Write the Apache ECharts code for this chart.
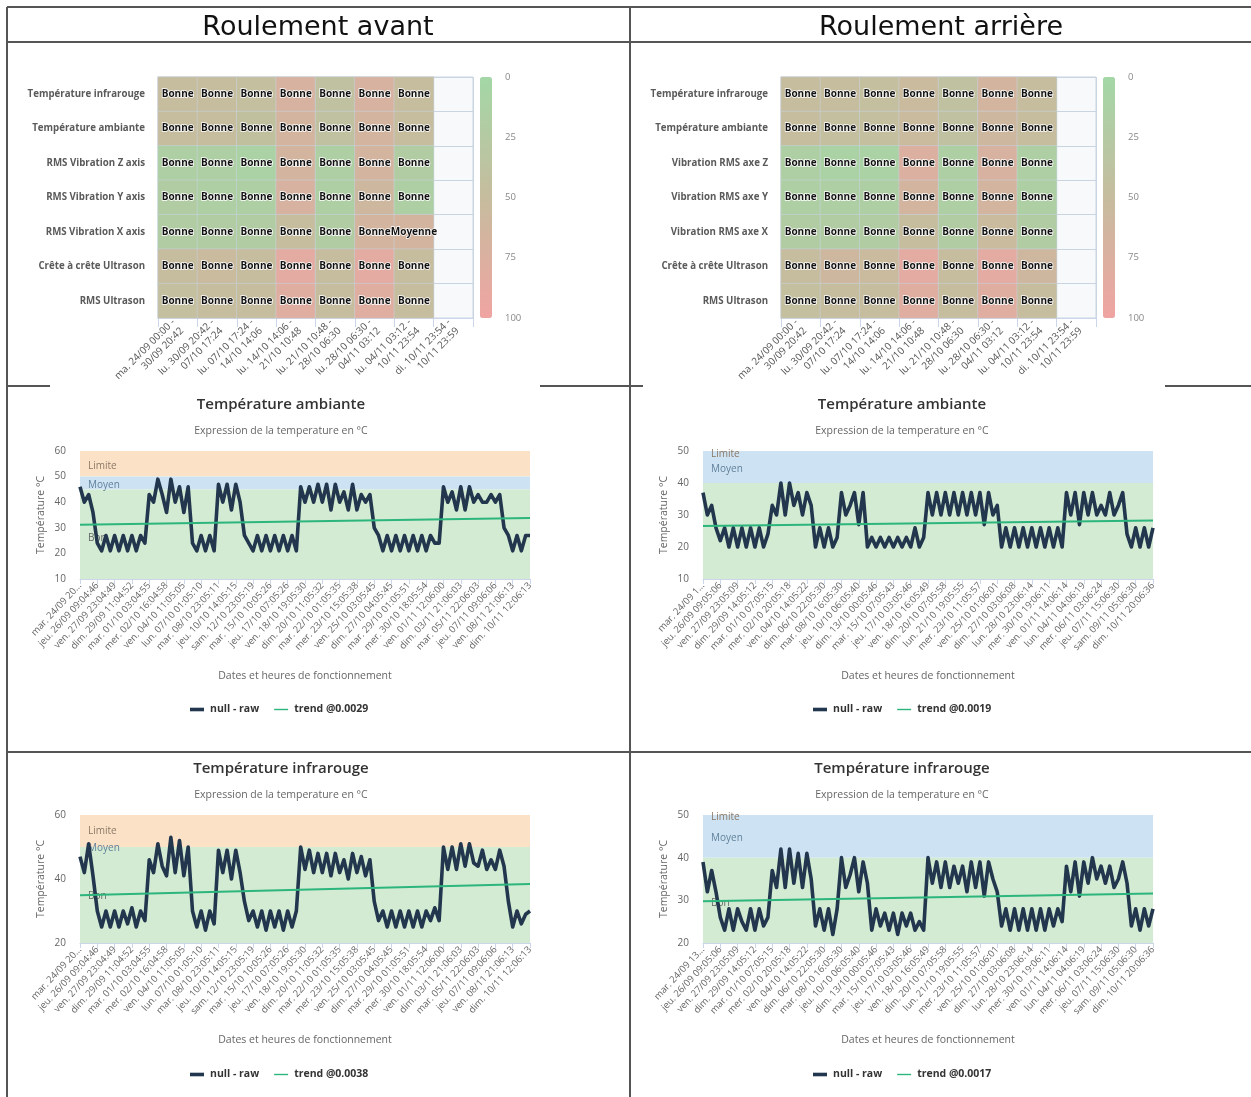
<!DOCTYPE html>
<html>
<head>
<meta charset="utf-8">
<title>Roulements</title>
<script src="https://cdn.jsdelivr.net/npm/echarts/dist/echarts.min.js"></script>
<style>
html, body { margin: 0; padding: 0; background: #fff; }
#main { width: 1251px; height: 1097px; }
</style>
</head>
<body>
<div id="main"></div>
<script>
const FONT = '"Open Sans", "DejaVu Sans", sans-serif';

// heatmaps : colonnes (periodes), lignes (capteurs), valeurs 0-100 et etat
const periodes = ['ma. 24/09 00:00 -\n30/09 20:42', 'lu. 30/09 20:42 -\n07/10 17:24', 'lu. 07/10 17:24 -\n14/10 14:06',
    'lu. 14/10 14:06 -\n21/10 10:48', 'lu. 21/10 10:48 -\n28/10 06:30', 'lu. 28/10 06:30 -\n04/11 03:12',
    'lu. 04/11 03:12 -\n10/11 23:54', 'di. 10/11 23:54 -\n10/11 23:59'];
const lignesAvant = ['Température infrarouge', 'Température ambiante', 'RMS Vibration Z axis', 'RMS Vibration Y axis',
    'RMS Vibration X axis', 'Crête à crête Ultrason', 'RMS Ultrason'];
const lignesArriere = ['Température infrarouge', 'Température ambiante', 'Vibration RMS axe Z', 'Vibration RMS axe Y',
    'Vibration RMS axe X', 'Crête à crête Ultrason', 'RMS Ultrason'];
const valeursAvant = [
    [50, 50, 45, 70, 40, 70, 50],
    [50, 48, 42, 65, 40, 65, 50],
    [15, 15, 10, 65, 15, 65, 20],
    [20, 15, 15, 70, 15, 60, 15],
    [20, 20, 20, 50, 20, 65, 65],
    [50, 55, 50, 85, 50, 85, 50],
    [45, 50, 50, 80, 50, 80, 50]
];
const valeursArriere = [
    [50, 50, 45, 55, 40, 65, 48],
    [48, 45, 45, 55, 40, 60, 50],
    [15, 10, 10, 75, 15, 70, 15],
    [15, 15, 15, 65, 15, 65, 15],
    [20, 20, 20, 50, 20, 55, 20],
    [50, 60, 55, 85, 50, 85, 60],
    [45, 50, 50, 80, 50, 80, 50]
];
const etatsAvant = [
    ['Bonne', 'Bonne', 'Bonne', 'Bonne', 'Bonne', 'Bonne', 'Bonne'],
    ['Bonne', 'Bonne', 'Bonne', 'Bonne', 'Bonne', 'Bonne', 'Bonne'],
    ['Bonne', 'Bonne', 'Bonne', 'Bonne', 'Bonne', 'Bonne', 'Bonne'],
    ['Bonne', 'Bonne', 'Bonne', 'Bonne', 'Bonne', 'Bonne', 'Bonne'],
    ['Bonne', 'Bonne', 'Bonne', 'Bonne', 'Bonne', 'Bonne', 'Moyenne'],
    ['Bonne', 'Bonne', 'Bonne', 'Bonne', 'Bonne', 'Bonne', 'Bonne'],
    ['Bonne', 'Bonne', 'Bonne', 'Bonne', 'Bonne', 'Bonne', 'Bonne']
];
const etatsArriere = [
    ['Bonne', 'Bonne', 'Bonne', 'Bonne', 'Bonne', 'Bonne', 'Bonne'],
    ['Bonne', 'Bonne', 'Bonne', 'Bonne', 'Bonne', 'Bonne', 'Bonne'],
    ['Bonne', 'Bonne', 'Bonne', 'Bonne', 'Bonne', 'Bonne', 'Bonne'],
    ['Bonne', 'Bonne', 'Bonne', 'Bonne', 'Bonne', 'Bonne', 'Bonne'],
    ['Bonne', 'Bonne', 'Bonne', 'Bonne', 'Bonne', 'Bonne', 'Bonne'],
    ['Bonne', 'Bonne', 'Bonne', 'Bonne', 'Bonne', 'Bonne', 'Bonne'],
    ['Bonne', 'Bonne', 'Bonne', 'Bonne', 'Bonne', 'Bonne', 'Bonne']
];

// courbes de temperature : etiquettes de l'axe (un point sur quatre) et mesures
const ticksAvant = ['mar. 24/09 20...', 'jeu. 26/09 09:04:46', 'ven. 27/09 23:04:49', 'dim. 29/09 11:04:52',
    'mar. 01/10 03:04:55', 'mer. 02/10 16:04:58', 'ven. 04/10 11:05:05', 'lun. 07/10 01:05:10', 'mar. 08/10 23:05:11',
    'jeu. 10/10 14:05:15', 'sam. 12/10 23:05:19', 'mar. 15/10 10:05:26', 'jeu. 17/10 07:05:26', 'ven. 18/10 19:05:30',
    'dim. 20/10 11:05:32', 'mar. 22/10 01:05:35', 'mer. 23/10 15:05:38', 'ven. 25/10 03:05:45', 'dim. 27/10 04:05:45',
    'mar. 29/10 01:05:51', 'mer. 30/10 18:05:54', 'ven. 01/11 12:06:00', 'dim. 03/11 21:06:03', 'mar. 05/11 22:06:03',
    'jeu. 07/11 09:06:06', 'ven. 08/11 21:06:13', 'dim. 10/11 12:06:13'];
const ticksArriereAmb = ['mar. 24/09 1...', 'jeu. 26/09 09:05:06', 'ven. 27/09 23:05:09', 'dim. 29/09 14:05:12',
    'mar. 01/10 07:05:15', 'mer. 02/10 20:05:18', 'ven. 04/10 14:05:22', 'dim. 06/10 22:05:30', 'mar. 08/10 16:05:30',
    'jeu. 10/10 06:05:40', 'dim. 13/10 00:05:46', 'mar. 15/10 07:05:43', 'jeu. 17/10 03:05:46', 'ven. 18/10 16:05:49',
    'dim. 20/10 07:05:58', 'lun. 21/10 19:05:55', 'mer. 23/10 11:05:57', 'ven. 25/10 01:06:01', 'dim. 27/10 03:06:08',
    'lun. 28/10 23:06:14', 'mer. 30/10 19:06:11', 'ven. 01/11 14:06:14', 'lun. 04/11 04:06:19', 'mer. 06/11 03:06:24',
    'jeu. 07/11 15:06:30', 'sam. 09/11 05:06:30', 'dim. 10/11 20:06:36'];
const ticksArriereIR = ['mar. 24/09 13...'].concat(ticksArriereAmb.slice(1));

const brutAvantAmb = [46, 40, 43, 36, 24,
    21, 27, 21, 27, 21, 27, 21, 27, 21, 27, 24,
    43, 40, 49, 43, 36, 49, 40, 46, 36, 46, 24,
    21, 27, 21, 27, 21,
    47, 40, 47, 37, 47, 40, 27,
    24, 21, 27, 21, 27, 21, 27, 21, 27, 21, 27, 21,
    46, 40, 46, 40, 47, 40, 47, 37, 47, 40, 44, 37, 47, 37, 43, 40, 43, 30,
    27, 21, 27, 21, 27, 21, 27, 21, 27, 21, 27, 21, 27, 24, 24,
    46, 40, 44, 37, 46, 37, 46, 40, 43, 40, 40, 43, 40, 43, 30,
    27, 21, 27, 21, 27, 27];
const brutArriereAmb = [37, 30, 33, 26, 22,
    26, 20, 26, 20, 26, 20, 26, 20, 26, 20, 24,
    33, 30, 40, 30, 40, 33, 37, 30, 37, 33, 20,
    26, 20, 26, 20, 23,
    37, 30, 33, 37, 27, 37, 20,
    23, 20, 23, 20, 23, 20, 23, 20, 23, 20, 26, 20, 23,
    37, 30, 37, 30, 37, 30, 37, 30, 37, 30, 37, 30, 37, 27, 37, 30, 33,
    20, 26, 20, 26, 20, 26, 20, 26, 20, 26, 20, 26, 20, 26, 20,
    37, 30, 37, 27, 37, 30, 37, 30, 33, 30, 37, 30, 33, 37, 24,
    20, 26, 20, 26, 20, 26];
const brutAvantIR = [47, 42, 51, 41, 30,
    25, 30, 25, 30, 25, 30, 26, 31, 25, 30, 27,
    46, 42, 51, 44, 41, 53, 42, 52, 41, 50, 30,
    25, 30, 24, 30, 26,
    49, 42, 49, 40, 49, 42, 33,
    27, 30, 25, 30, 24, 30, 25, 30, 24, 30, 25, 30,
    50, 43, 49, 42, 48, 42, 48, 41, 48, 42, 46, 40, 48, 42, 47, 41, 46, 33,
    27, 30, 25, 30, 25, 30, 25, 30, 25, 30, 25, 30, 27, 31, 27,
    50, 43, 50, 43, 51, 44, 51, 45, 44, 49, 43, 46, 43, 49, 44,
    33, 25, 30, 26, 29, 30];
const brutArriereIR = [39, 32, 37, 32, 26,
    23, 28, 23, 28, 25, 23, 28, 23, 28, 24, 26,
    37, 33, 42, 33, 42, 34, 41, 33, 41, 35, 24,
    28, 23, 28, 22, 28,
    40, 33, 36, 40, 32, 39, 34,
    23, 28, 24, 27, 23, 27, 22, 27, 24, 27, 23, 25, 23,
    40, 34, 39, 33, 39, 33, 38, 34, 38, 32, 39, 33, 39, 31, 39, 35, 32,
    24, 28, 23, 28, 23, 28, 23, 28, 23, 28, 23, 28, 24, 28, 25,
    38, 32, 39, 31, 39, 34, 40, 35, 38, 34, 38, 33, 35, 39, 34,
    24, 28, 23, 28, 24, 28];

// tendances : valeur au debut et a la fin
const trendAvantAmb = [31.2, 33.8];
const trendArriereAmb = [26.6, 28.3];
const trendAvantIR = [34.9, 38.4];
const trendArriereIR = [29.8, 31.6];

const ORANGE = '#fbe2c7', BLEU = '#cde3f3', VERT = '#d3ebd2';
const RAW = '#22374e', TREND = '#2cb57c';

let myChart = echarts.init(document.getElementById('main'));

const heatData = (valeurs, etats) => {
    let out = [];
    valeurs.forEach((row, r) => row.forEach((v, c) => out.push([c, r, v, etats[r][c]])));
    return out;
};

// une heatmap par roulement
const heatGrid = (left) => ({
    'left': left, 'top': 77, 'width': 315, 'height': 241, 'show': true,
    'backgroundColor': '#f7f9fb', 'borderColor': '#c9d5e0', 'borderWidth': 1, 'outerBoundsMode': 'none'
});
const heatX = (gi) => ({
    'type': 'category', 'gridIndex': gi, 'data': periodes,
    'axisLine': {'lineStyle': {'color': '#ccd6eb'}},
    'axisTick': {'show': true, 'length': 9, 'lineStyle': {'color': '#ccd6eb'}},
    'splitLine': {'show': true, 'lineStyle': {'color': '#c9d5e0'}},
    'axisLabel': {'rotate': 45, 'interval': 0, 'fontSize': 10, 'color': '#555', 'fontFamily': FONT, 'lineHeight': 12, 'margin': 7}
});
const heatY = (gi, lignes) => ({
    'type': 'category', 'gridIndex': gi, 'data': lignes, 'inverse': true,
    'axisLine': {'show': false}, 'axisTick': {'show': false},
    'splitLine': {'show': true, 'lineStyle': {'color': '#c9d5e0'}},
    'axisLabel': {'fontSize': 9.7, 'fontWeight': 'bold', 'color': '#5a5a5a', 'fontFamily': FONT, 'margin': 13}
});
const heatSeries = (gi, valeurs, etats) => ({
    'type': 'heatmap', 'xAxisIndex': gi, 'yAxisIndex': gi,
    'data': heatData(valeurs, etats),
    'itemStyle': {'borderColor': '#c9d5e0', 'borderWidth': 0.5},
    'label': {
        'show': true, 'formatter': (p) => p.data[3], 'fontSize': 10, 'fontWeight': 'bold',
        'color': '#111', 'fontFamily': FONT, 'textBorderColor': '#fff', 'textBorderWidth': 1.5
    },
    'emphasis': {'disabled': true}
});
// echelle 0-100 a cote de la barre de couleur
const scaleGrid = (left) => ({'left': left, 'top': 77, 'width': 12, 'height': 241, 'outerBoundsMode': 'none'});
const scaleX = (gi) => ({'type': 'value', 'gridIndex': gi, 'show': false});
const scaleY = (gi) => ({
    'type': 'value', 'gridIndex': gi, 'min': 0, 'max': 100, 'interval': 25, 'inverse': true, 'position': 'right',
    'axisLine': {'show': false}, 'axisTick': {'show': false}, 'splitLine': {'show': false},
    'axisLabel': {'margin': 13, 'fontSize': 9.5, 'color': '#888', 'fontFamily': FONT}
});
const visual = (si, left) => ({
    'type': 'continuous', 'seriesIndex': si, 'dimension': 2, 'min': 0, 'max': 100, 'inverse': true, 'orient': 'vertical',
    'left': left - 15, 'top': 62, 'itemWidth': 12, 'itemHeight': 241, 'calculable': false, 'text': null,
    'showLabel': false, 'inRange': {'color': ['#a3d7a6', '#c6bc9e', '#f0a4a2']}
});

// courbes
const lineGrid = (left, top) => ({'left': left, 'top': top, 'width': 450, 'height': 128, 'outerBoundsMode': 'none'});
const lineX = (gi, ticks) => ({
    'type': 'value', 'gridIndex': gi, 'min': 0, 'max': 104, 'interval': 4,
    'name': 'Dates et heures de fonctionnement', 'nameLocation': 'middle', 'nameGap': 92,
    'nameTextStyle': {'fontSize': 10.5, 'color': '#666', 'fontFamily': FONT},
    'axisLine': {'show': true, 'lineStyle': {'color': '#ccd6eb'}},
    'axisTick': {'show': true, 'length': 5, 'lineStyle': {'color': '#ccd6eb'}},
    'splitLine': {'show': false},
    'axisLabel': {
        'rotate': 47, 'fontSize': 9.5, 'color': '#666', 'fontFamily': FONT, 'margin': 5,
        'showMinLabel': true, 'showMaxLabel': true,
        'formatter': (v) => ticks[Math.round(v / 4)] || ''
    }
});
const lineY = (gi, min, max, interval) => ({
    'type': 'value', 'gridIndex': gi, 'min': min, 'max': max, 'interval': interval,
    'name': 'Température °C', 'nameLocation': 'middle', 'nameGap': 33, 'nameRotate': 90,
    'nameTextStyle': {'fontSize': 10.5, 'color': '#666', 'fontFamily': FONT},
    'axisLine': {'show': false}, 'axisTick': {'show': false}, 'splitLine': {'show': false},
    'axisLabel': {'fontSize': 10, 'color': '#666', 'fontFamily': FONT, 'margin': 14}
});
const rawSeries = (gi, brut) => ({
    'name': 'null - raw', 'type': 'line', 'xAxisIndex': gi, 'yAxisIndex': gi, 'symbol': 'none', 'z': 2,
    'data': brut.map((v, i) => [i, v]),
    'lineStyle': {'width': 3.6, 'color': RAW, 'join': 'round'}, 'itemStyle': {'color': RAW},
    'emphasis': {'disabled': true}
});
const trendSeries = (gi, nom, trend, n, bands, labels) => ({
    'name': nom, 'type': 'line', 'xAxisIndex': gi, 'yAxisIndex': gi, 'symbol': 'none', 'z': 3,
    'data': [[0, trend[0]], [n - 1, trend[1]]],
    'lineStyle': {'width': 2, 'color': TREND}, 'itemStyle': {'color': TREND},
    'emphasis': {'disabled': true},
    'markArea': {
        'silent': true, 'z': 0,
        'data': bands.map((b) => [{'yAxis': b[0], 'itemStyle': {'color': b[2]}}, {'yAxis': b[1]}])
    },
    'markPoint': {
        'silent': true, 'z': 1, 'symbol': 'circle', 'symbolSize': 0,
        'label': {'show': true, 'position': 'right', 'distance': 8, 'formatter': '{b}', 'fontSize': 10, 'fontFamily': FONT},
        'data': labels.map((l) => ({'name': l[0], 'coord': [0, l[1]], 'label': {'color': l[2]}}))
    }
});
const lineTitle = (text, cx, top) => ({
    'text': text, 'subtext': 'Expression de la temperature en °C', 'left': cx - 5, 'top': top, 'textAlign': 'center',
    'itemGap': 14,
    'textStyle': {'fontSize': 15, 'fontWeight': 600, 'color': '#333', 'fontFamily': FONT},
    'subtextStyle': {'fontSize': 10.5, 'color': '#666', 'fontFamily': FONT}
});
const lineLegend = (left, top, nom) => ({
    'left': left, 'top': top, 'orient': 'horizontal', 'itemWidth': 16, 'itemHeight': 8, 'itemGap': 14,
    'selectedMode': false,
    'data': [
        {'name': 'null - raw', 'icon': 'path://M0,0M16,8M1,2.2H15V5.8H1Z'},
        {'name': nom, 'icon': 'path://M0,0M16,8M1,3.3H15V4.7H1Z'}
    ],
    'textStyle': {'fontSize': 10.5, 'fontWeight': 'bold', 'color': '#333', 'fontFamily': FONT}
});

const LIM = '#8b7866', MOY = '#62819b', BON = '#666';
const N = brutAvantAmb.length;

const frameLine = (x1, y1, x2, y2) => ({
    'type': 'line', 'z': 100, 'shape': {'x1': x1, 'y1': y1, 'x2': x2, 'y2': y2},
    'style': {'stroke': '#555', 'lineWidth': 2}
});

myChart.setOption({
    'backgroundColor': '#fff',
    'animation': false,
    'title': [
        {'text': 'Roulement avant', 'left': 313, 'top': 9, 'textAlign': 'center',
            'textStyle': {'fontSize': 27, 'fontWeight': 'normal', 'color': '#111', 'fontFamily': '"DejaVu Sans", sans-serif'}},
        {'text': 'Roulement arrière', 'left': 936, 'top': 9, 'textAlign': 'center',
            'textStyle': {'fontSize': 27, 'fontWeight': 'normal', 'color': '#111', 'fontFamily': '"DejaVu Sans", sans-serif'}},
        lineTitle('Température ambiante', 281, 392),
        lineTitle('Température ambiante', 902, 392),
        lineTitle('Température infrarouge', 281, 756),
        lineTitle('Température infrarouge', 902, 756)
    ],
    'legend': [
        lineLegend(184, 699, 'trend @0.0029'),
        lineLegend(807, 699, 'trend @0.0019'),
        lineLegend(184, 1064, 'trend @0.0038'),
        lineLegend(807, 1064, 'trend @0.0017')
    ],
    'grid': [
        heatGrid(158), heatGrid(781), scaleGrid(480), scaleGrid(1103),
        lineGrid(80, 451), lineGrid(703, 451), lineGrid(80, 815), lineGrid(703, 815)
    ],
    'xAxis': [
        heatX(0), heatX(1), scaleX(2), scaleX(3),
        lineX(4, ticksAvant), lineX(5, ticksArriereAmb), lineX(6, ticksAvant), lineX(7, ticksArriereIR)
    ],
    'yAxis': [
        heatY(0, lignesAvant), heatY(1, lignesArriere), scaleY(2), scaleY(3),
        lineY(4, 10, 60, 10), lineY(5, 10, 50, 10), lineY(6, 20, 60, 20), lineY(7, 20, 50, 10)
    ],
    'visualMap': [visual(0, 480), visual(1, 1103)],
    'series': [
        heatSeries(0, valeursAvant, etatsAvant),
        heatSeries(1, valeursArriere, etatsArriere),
        rawSeries(4, brutAvantAmb),
        trendSeries(4, 'trend @0.0029', trendAvantAmb, N,
            [[50, 60, ORANGE], [45, 50, BLEU], [10, 45, VERT]],
            [['Limite', 54, LIM], ['Moyen', 46.5, MOY], ['Bon', 26, BON]]),
        rawSeries(5, brutArriereAmb),
        trendSeries(5, 'trend @0.0019', trendArriereAmb, N,
            [[40, 50, BLEU], [10, 40, VERT]],
            [['Limite', 49, LIM], ['Moyen', 44.4, MOY]]),
        rawSeries(6, brutAvantIR),
        trendSeries(6, 'trend @0.0038', trendAvantIR, N,
            [[50, 60, ORANGE], [20, 50, VERT]],
            [['Limite', 55, LIM], ['Moyen', 49.5, MOY], ['Bon', 34.6, BON]]),
        rawSeries(7, brutArriereIR),
        trendSeries(7, 'trend @0.0017', trendArriereIR, N,
            [[40, 50, BLEU], [20, 40, VERT]],
            [['Limite', 49.4, LIM], ['Moyen', 44.6, MOY], ['Bon', 29.4, BON]])
    ],
    'graphic': [
        frameLine(7, 7, 1251, 7),
        frameLine(7, 7, 7, 1097),
        frameLine(7, 42, 1251, 42),
        frameLine(630, 7, 630, 1097),
        frameLine(7, 386, 50, 386),
        frameLine(540, 386, 643, 386),
        frameLine(1165, 386, 1251, 386),
        frameLine(7, 752, 1251, 752)
    ]
});
</script>
</body>
</html>
